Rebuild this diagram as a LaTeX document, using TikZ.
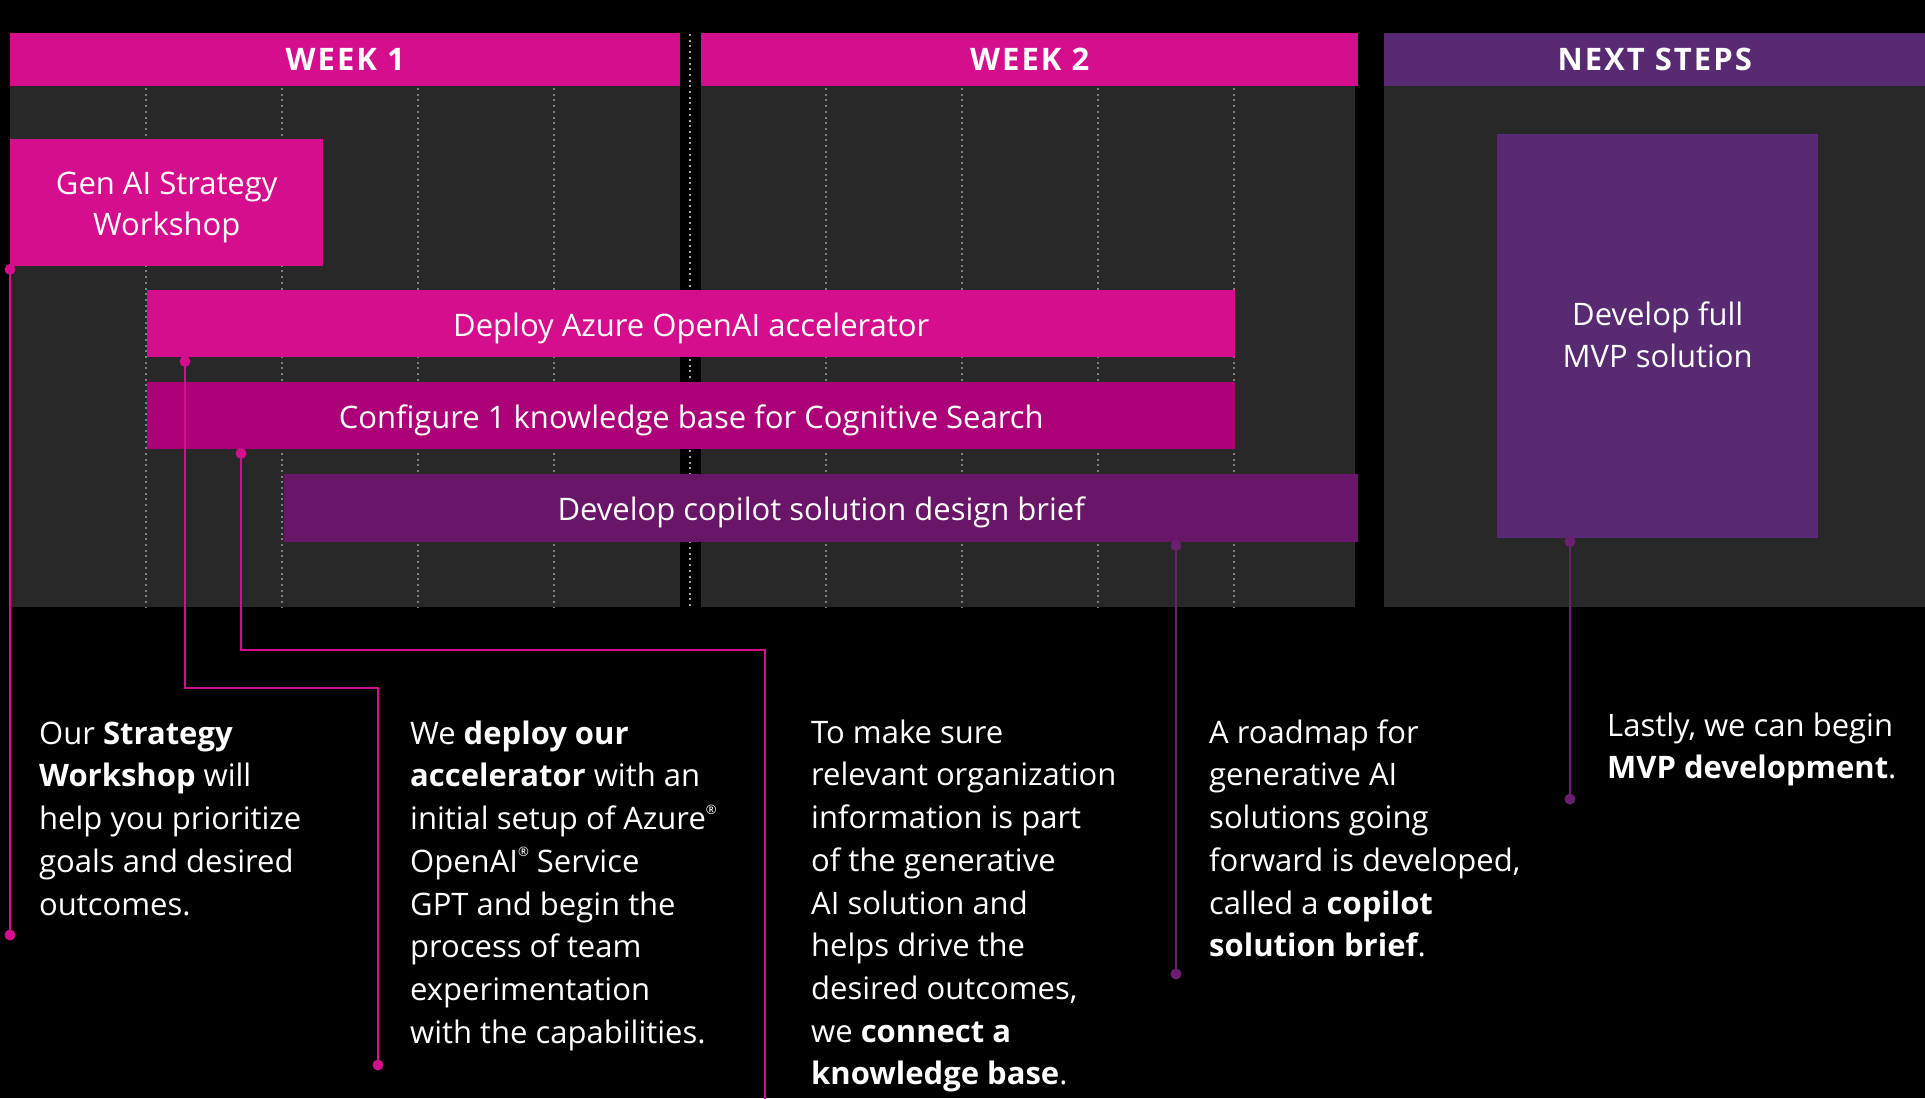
\documentclass[tikz,border=0pt]{standalone}
\usepackage{fontspec}
\setmainfont{Open Sans}
\usetikzlibrary{calc}
\definecolor{mag}{RGB}{212,14,140}
\definecolor{magdark}{RGB}{172,0,120}
\definecolor{plum}{RGB}{105,22,104}
\definecolor{nextp}{RGB}{88,42,114}
\definecolor{panel}{RGB}{40,40,40}
\definecolor{gridc}{RGB}{128,128,128}
\definecolor{connp}{RGB}{108,30,112}
\newcommand\hdrfont{\fontsize{31}{33}\selectfont\bfseries\addfontfeature{LetterSpace=6.5}}
\newcommand\barfont{\fontsize{31}{41.7}\selectfont}
\newcommand\bodyfont{\fontsize{31}{42.7}\selectfont}
\newcommand\regmark{\raisebox{0.5em}{\fontsize{13}{13}\selectfont ®}}
\newcommand\shiftdown[2]{\raisebox{-#1}[\height][\depth]{#2}}
\begin{document}
\begin{tikzpicture}[x=1pt,y=-1pt,
  hdr/.style={fill=#1, text=white, font=\hdrfont, inner sep=0, anchor=north west, minimum height=53pt},
  bar/.style={fill=#1, text=white, font=\barfont, inner sep=0, anchor=north west},
  para/.style={text=white, font=\bodyfont, inner sep=0, anchor=north west, align=left},
  gridline/.style={gridc, line width=2pt, dash pattern=on 2pt off 3.7pt},
  conn/.style={#1, line width=2.4pt},
  dot/.style={fill=#1}
]
\useasboundingbox (0,0) rectangle (1925,1098);
\fill[black] (0,0) rectangle (1925,1098);
% panels
\fill[panel] (10,85) rectangle (680,607);
\fill[panel] (701,85) rectangle (1355,607);
\fill[panel] (1384,85) rectangle (1925,607);
% grid lines
\foreach \x in {146,282,418,554,826,962,1098,1234}
  \draw[gridline] (\x,88) -- (\x,607);
\draw[gridline, gridc!70] (690,34) -- (690,607);
% headers
\node[hdr=mag, minimum width=670pt] (w1) at (10,33) {WEEK 1};
\node[hdr=mag, minimum width=657pt] (w2) at (701,33) {WEEK 2};
\node[hdr=nextp, minimum width=541pt] (ns) at (1384,33) {NEXT STEPS};
% boxes and bars
\node[bar=mag, minimum width=313pt, minimum height=127pt] (genai) at (10,139) {\shiftdown{4pt}{\begin{tabular}{@{}c@{}}Gen AI Strategy\\Workshop\end{tabular}}};
\node[bar=mag, minimum width=1088pt, minimum height=67pt] (deploy) at (147,290) {\shiftdown{5pt}{Deploy Azure OpenAI accelerator}};
\node[bar=magdark, minimum width=1088pt, minimum height=67pt] (config) at (147,382) {\shiftdown{5pt}{Configure 1 knowledge base for Cognitive Search}};
\node[bar=plum, minimum width=1074pt, minimum height=68pt] (copilot) at (284,474) {\shiftdown{4pt}{Develop copilot solution design brief}};
\node[bar=nextp, minimum width=321pt, minimum height=404pt] (mvp) at (1497,134) {\shiftdown{2pt}{\begin{tabular}{@{}c@{}}Develop full\\MVP solution\end{tabular}}};
% texts
\node[para] (t1) at (39,720) {\rule{0pt}{24pt}Our \textbf{Strategy}\\\textbf{Workshop} will\\help you prioritize\\goals and desired\\outcomes.};
\node[para] (t2) at (410,720) {\rule{0pt}{24pt}We \textbf{deploy our}\\\textbf{accelerator} with an\\initial setup of Azure\regmark\\OpenAI\regmark{} Service\\GPT and begin the\\process of team\\experimentation\\with the capabilities.};
\node[para] (t3) at (811,719) {\rule{0pt}{24pt}To make sure\\relevant organization\\information is part\\of the generative\\AI solution and\\helps drive the\\desired outcomes,\\we \textbf{connect a}\\\textbf{knowledge base}.};
\node[para] (t4) at (1209,719) {\rule{0pt}{24pt}A roadmap for\\generative AI\\solutions going\\forward is developed,\\called a \textbf{copilot}\\\textbf{solution brief}.};
\node[para] (t5) at (1607,712) {\rule{0pt}{24pt}Lastly, we can begin\\\textbf{MVP development}.};
% connectors
\coordinate (s1) at ($(genai.south west)+(0,3)$);
\coordinate (e1) at (10,935);
\draw[conn=mag] (s1) -- (e1);
\fill[dot=mag] (s1) circle (5.5pt) (e1) circle (5.5pt);

\coordinate (s2) at ($(deploy.south west)+(38,4)$);
\coordinate (k2) at (378,688);
\coordinate (e2) at (378,1065);
\draw[conn=mag] (s2) |- (k2) -- (e2);
\fill[dot=mag] (s2) circle (5.5pt) (e2) circle (5.5pt);

\coordinate (s3) at ($(config.south west)+(94,4)$);
\coordinate (k3) at (765,650);
\coordinate (e3) at (765,1100);
\draw[conn=mag] (s3) |- (k3) -- (e3);
\fill[dot=mag] (s3) circle (5.5pt);

\coordinate (s4) at ($(copilot.south west)+(892,3)$);
\coordinate (e4) at (1176,974);
\draw[conn=connp] (s4) -- (e4);
\fill[dot=connp] (s4) circle (5.5pt) (e4) circle (5.5pt);

\coordinate (s5) at ($(mvp.south west)+(73,3)$);
\coordinate (e5) at (1570,799);
\draw[conn=connp] (s5) -- (e5);
\fill[dot=connp] (s5) circle (5.5pt) (e5) circle (5.5pt);
\end{tikzpicture}
\end{document}
